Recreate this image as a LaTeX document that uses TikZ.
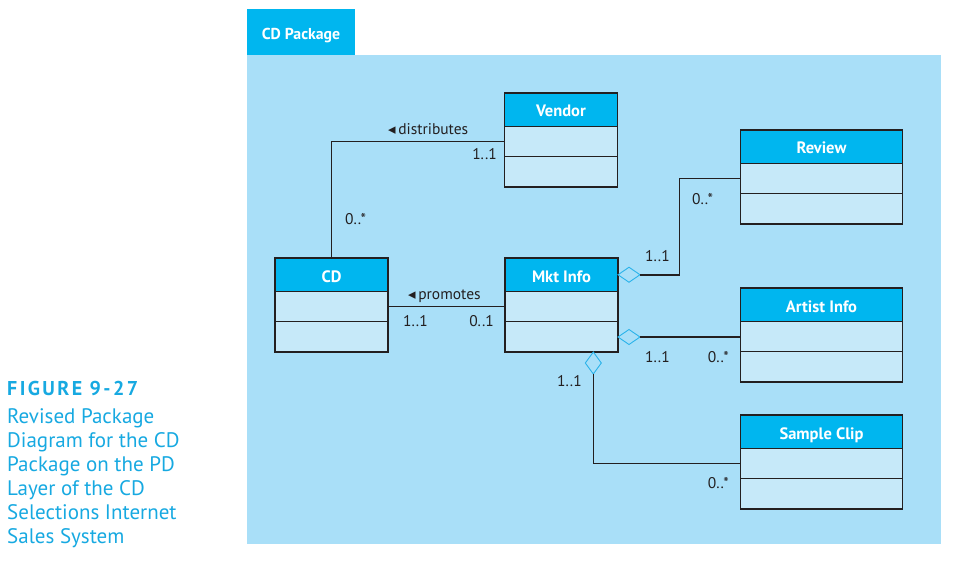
\documentclass[tikz,border=0pt]{standalone}
\usepackage{fontspec}
\setmainfont{PT Sans}
\newfontfamily\symfont{DejaVu Sans}
\usetikzlibrary{shapes.geometric,calc}
\definecolor{pkgbg}{RGB}{169,223,248}
\definecolor{hdrc}{RGB}{0,182,239}
\definecolor{compc}{RGB}{198,233,249}
\definecolor{capc}{RGB}{23,169,225}
\definecolor{inkc}{RGB}{35,31,32}
\definecolor{diac}{RGB}{43,179,234}
\tikzset{
  clsbox/.style={draw=inkc, fill=compc, line width=1.6pt, minimum height=94pt, inner sep=0pt, outer sep=0pt},
  hdrtext/.style={text=white, font=\fontsize{16.5}{19}\selectfont\bfseries, inner sep=0pt},
  assoc/.style={draw=inkc, line width=1.6pt},
  mult/.style={text=inkc, font=\fontsize{15.5}{18}\selectfont, inner sep=0pt},
  aggr/.style={diamond, draw=diac, fill=pkgbg, line width=0.9pt, inner sep=0pt, outer sep=0pt},
}
\newcommand{\umlclass}[5]{%
  \node[clsbox, minimum width=#4pt, anchor=north west] (#1) at (#2,#3) {};
  \fill[hdrc] (#1.north west) rectangle ($(#1.north east)+(0,33.5)$);
  \draw[assoc] ($(#1.north west)+(0,33.5)$) -- ($(#1.north east)+(0,33.5)$);
  \draw[assoc] ($(#1.north west)+(0,63.5)$) -- ($(#1.north east)+(0,63.5)$);
  \draw[assoc] (#1.north west) rectangle (#1.south east);
  \node[hdrtext, anchor=base] (#1-t) at ($(#1.north)+(0,24)$) {#5};
  \coordinate (#1-c1) at ($(#1.north west)+(0,48.5)$);
}
\newcommand{\tri}{{\symfont\fontsize{15}{17}\selectfont ◂}}
\begin{document}
\begin{tikzpicture}[x=1pt, y=-1pt]
\useasboundingbox (0,0) rectangle (955,561);
% package
\node[fill=hdrc, minimum width=108pt, minimum height=46pt, anchor=north west, inner sep=0pt] (tab) at (247,9) {};
\node[hdrtext, font=\fontsize{15.8}{18}\selectfont\bfseries, anchor=base] (tabt) at (301,39.5) {CD Package};
\node[fill=pkgbg, minimum width=694pt, minimum height=489pt, anchor=north west, inner sep=0pt] (pkg) at (247,55) {};
% classes
\umlclass{vendor}{504.5}{93}{113}{Vendor}
\umlclass{review}{740.5}{130}{162}{Review}
\umlclass{cd}{275}{258}{113}{CD}
\umlclass{mkt}{505}{258}{113}{Mkt Info}
\umlclass{artist}{740.5}{288}{162}{Artist Info}
\umlclass{sample}{740.5}{415}{162}{Sample Clip}
% aggregation diamonds
\node[aggr, minimum width=22pt, minimum height=15pt, anchor=west] (d1) at ($(mkt.north east)+(0,16.75)$) {};
\node[aggr, minimum width=22pt, minimum height=15pt, anchor=west] (d2) at ($(mkt.north east)+(0,79)$) {};
\node[aggr, minimum width=16pt, minimum height=22pt, anchor=north] (d3) at (593.3,352) {};
\coordinate (bend1) at (679.5,0);
% associations
\draw[assoc] (cd.north) |- (vendor-c1);
\draw[assoc] (cd-c1 -| cd.east) -- (mkt-c1);
\draw[assoc] (d1.east) -- (d1.east -| bend1) |- (review-c1);
\draw[assoc] (d2.east) -- (d2.east -| artist.west);
\draw[assoc] (d3.south) |- (sample-c1);
% labels
\node[mult, anchor=base west] (l1) at (388,135) {\tri\,distributes};
\node[mult, anchor=base east] (l2) at (497,160) {1..1};
\node[mult, anchor=base west] (l3) at (345,225) {0..*};
\node[mult, anchor=base west] (l4) at (408,299.5) {\tri\,promotes};
\node[mult, anchor=base west] (l5) at (403,326) {1..1};
\node[mult, anchor=base east] (l6) at (494,326) {0..1};
\node[mult, anchor=base west] (l7) at (645,261.7) {1..1};
\node[mult, anchor=base west] (l8) at (692,205) {0..*};
\node[mult, anchor=base west] (l9) at (645,362) {1..1};
\node[mult, anchor=base east] (l10) at (729,362) {0..*};
\node[mult, anchor=base west] (l11) at (557,386.7) {1..1};
\node[mult, anchor=base east] (l12) at (729,488) {0..*};
% caption
\node[text=capc, anchor=base west, inner sep=0pt, font=\fontsize{20}{22}\selectfont\bfseries\addfontfeatures{LetterSpace=12}] (fig) at (7,395) {FIGURE 9-27};
\node[text=capc, anchor=base west, inner sep=0pt, align=left, font=\fontsize{21}{24}\selectfont] (cap) at (7,543.3) {Revised Package\\Diagram for the CD\\Package on the PD\\Layer of the CD\\Selections Internet\\Sales System};
\end{tikzpicture}
\end{document}
